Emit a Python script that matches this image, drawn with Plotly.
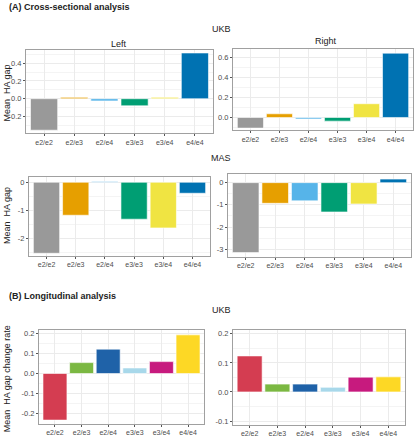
import plotly.graph_objects as go

genotypes = ["e2/e2", "e2/e3", "e2/e4", "e3/e3", "e3/e4", "e4/e4"]

ukb_left = [-0.354, 0.015, -0.025, -0.08, 0.015, 0.514]
ukb_right = [-0.107, 0.037, -0.015, -0.037, 0.138, 0.646]
mas_left = [-2.52, -1.17, 0.03, -1.31, -1.62, -0.39]
mas_right = [-3.15, -0.93, -0.82, -1.32, -0.96, 0.16]
long_left = [-0.235, 0.055, 0.123, 0.028, 0.06, 0.195]
long_right = [0.124, 0.027, 0.027, 0.016, 0.051, 0.052]

cross_colors = ["#999999", "#E69F00", "#56B4E9", "#009E73", "#F0E442", "#0072B2"]
long_colors = ["#D43D51", "#7BB842", "#1F62A8", "#A8D8EA", "#C71A7E", "#FDD825"]

W, H = 420, 440

panels = [
    (ukb_left, cross_colors, (26, 213, 49, 133), [-0.39, 0.55],
     [-0.2, 0.0, 0.2, 0.4], ["-0.2", "0.0", "0.2", "0.4"]),
    (ukb_right, cross_colors, (233, 413, 48, 130), [-0.13, 0.69],
     [0.0, 0.2, 0.4, 0.6], ["0.0", "0.2", "0.4", "0.6"]),
    (mas_left, cross_colors, (29, 210, 177, 256), [-2.61, 0.18],
     [-2, -1, 0], ["-2", "-1", "0"]),
    (mas_right, cross_colors, (228, 411, 174, 257), [-3.34, 0.38],
     [-3, -2, -1, 0], ["-3", "-2", "-1", "0"]),
    (long_left, long_colors, (39, 204, 331, 425), [-0.255, 0.217],
     [-0.2, -0.1, 0.0, 0.1, 0.2], ["-0.2", "-0.1", "0.0", "0.1", "0.2"]),
    (long_right, long_colors, (233, 405, 330, 426), [-0.114, 0.215],
     [-0.1, 0.0, 0.1, 0.2], ["-0.1", "0.0", "0.1", "0.2"]),
]

fontf = "Liberation Sans, Arial"
fig = go.Figure()
layout = {}
for i, (vals, cols, (x0, x1, y0, y1), yr, tv, tt) in enumerate(panels, start=1):
    xa = "x" if i == 1 else f"x{i}"
    ya = "y" if i == 1 else f"y{i}"
    fig.add_trace(go.Bar(
        x=genotypes, y=vals, marker=dict(color=cols, line=dict(color="white", width=0.6)),
        width=0.9, xaxis=xa, yaxis=ya, showlegend=False, hoverinfo="x+y",
    ))
    xkey = "xaxis" if i == 1 else f"xaxis{i}"
    ykey = "yaxis" if i == 1 else f"yaxis{i}"
    layout[xkey] = dict(
        domain=[x0 / W, x1 / W], anchor=ya, range=[-0.6, 5.6],
        showgrid=True, gridcolor="#EBEBEB", gridwidth=1,
        showline=True, linecolor="#A0A0A0", linewidth=1, mirror=True,
        ticks="outside", ticklen=2, tickcolor="#555555",
        tickfont=dict(family=fontf, size=7, color="#4D4D4D"),
        zeroline=False, fixedrange=True,
    )
    minor_step = (tv[1] - tv[0]) / 2
    layout[ykey] = dict(
        domain=[1 - y1 / H, 1 - y0 / H], anchor=xa, range=yr,
        tickvals=tv, ticktext=tt,
        showgrid=True, gridcolor="#EBEBEB", gridwidth=1,
        minor=dict(dtick=minor_step, tick0=tv[0], showgrid=True, gridcolor="#F4F4F4", gridwidth=0.5),
        showline=True, linecolor="#A0A0A0", linewidth=1, mirror=True,
        ticks="outside", ticklen=2, tickcolor="#555555",
        tickfont=dict(family=fontf, size=7.5, color="#4D4D4D"),
        zeroline=False, fixedrange=True,
    )

annots = [
    dict(text="<b>(A) Cross-sectional analysis</b>", x=7 / W, y=1 - 6 / H, xanchor="left", yanchor="middle",
         font=dict(size=9, color="#222222")),
    dict(text="UKB", x=221 / W, y=1 - 28 / H, xanchor="center", yanchor="middle", font=dict(size=9, color="#222222")),
    dict(text="Left", x=119 / W, y=1 - 43 / H, xanchor="center", yanchor="middle", font=dict(size=9, color="#222222")),
    dict(text="Right", x=326 / W, y=1 - 40 / H, xanchor="center", yanchor="middle", font=dict(size=9, color="#222222")),
    dict(text="MAS", x=221 / W, y=1 - 158 / H, xanchor="center", yanchor="middle", font=dict(size=9, color="#222222")),
    dict(text="<b>(B) Longitudinal analysis</b>", x=7 / W, y=1 - 296 / H, xanchor="left", yanchor="middle",
         font=dict(size=9, color="#222222")),
    dict(text="UKB", x=221 / W, y=1 - 310 / H, xanchor="center", yanchor="middle", font=dict(size=9, color="#222222")),
    dict(text="Mean  HA gap", x=7 / W, y=1 - 93 / H, xanchor="center", yanchor="middle", textangle=-90,
         font=dict(size=9, color="#222222")),
    dict(text="Mean  HA gap", x=7 / W, y=1 - 216 / H, xanchor="center", yanchor="middle", textangle=-90,
         font=dict(size=9, color="#222222")),
    dict(text="Mean  HA gap change rate", x=7 / W, y=1 - 380 / H, xanchor="center", yanchor="middle", textangle=-90,
         font=dict(size=9, color="#222222")),
]
for a in annots:
    a.update(xref="paper", yref="paper", showarrow=False)
    a["font"]["family"] = fontf

fig.update_layout(
    width=W, height=H, margin=dict(l=0, r=0, t=0, b=0),
    paper_bgcolor="white", plot_bgcolor="white",
    bargap=0.1, annotations=annots, font=dict(family=fontf),
    **layout,
)

fig.write_html(
    "out.html",
    config={"displayModeBar": False},
    post_script="document.body.style.margin='0';document.body.style.overflow='hidden';",
)
